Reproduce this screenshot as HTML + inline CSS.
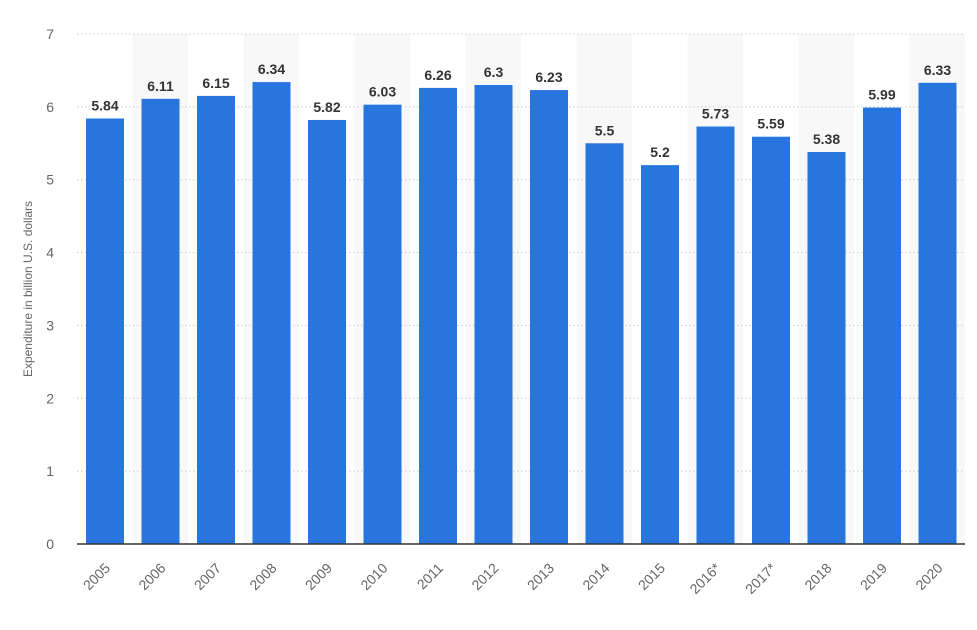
<!DOCTYPE html>
<html><head><meta charset="utf-8"><style>
body{margin:0;background:#fff;width:977px;height:625px;overflow:hidden}
svg{font-family:"Liberation Sans",sans-serif}
</style></head><body>
<svg width="977" height="625" xmlns="http://www.w3.org/2000/svg">
<g id="bands"></g>
<g id="grid"></g>
<g id="bars"></g>
<line x1="77" y1="544" x2="965" y2="544" stroke="#333" stroke-width="1.5"/>
<text transform="translate(32,289) rotate(-90)" text-anchor="middle" font-size="12" fill="#666">Expenditure in billion U.S. dollars</text>
</svg>
<script>
const ns="http://www.w3.org/2000/svg";
const vals=[5.84,6.11,6.15,6.34,5.82,6.03,6.26,6.3,6.23,5.5,5.2,5.73,5.59,5.38,5.99,6.33];
const yrs=["2005","2006","2007","2008","2009","2010","2011","2012","2013","2014","2015","2016*","2017*","2018","2019","2020"];
const y0=544,k=72.86,x0=77,cw=55.5;
function el(t,a,p,txt){const e=document.createElementNS(ns,t);for(const n in a)e.setAttribute(n,a[n]);if(txt!=null)e.textContent=txt;document.getElementById(p).appendChild(e);return e;}
for(let i=0;i<16;i++){if(i%2==1)el('rect',{x:x0+cw*i,y:34,width:cw,height:510,fill:'#f8f8f8'},'bands');}
for(let v=0;v<=7;v++){const y=y0-v*k;if(v>0)el('line',{x1:77,x2:965,y1:y,y2:y,stroke:'#ccc','stroke-dasharray':'1.5,2.5'},'grid');
el('text',{x:54,y:y+5,'text-anchor':'end','font-size':'14',fill:'#666'},'grid',String(v));}
vals.forEach((v,i)=>{const x=x0+cw*i+9,h=v*k;
el('rect',{x:x,y:y0-h,width:38,height:h,fill:'#2876dd'},'bars');
el('text',{x:x+19,y:y0-h-8,'text-anchor':'middle','font-size':'14','font-weight':'bold',fill:'#333'},'bars',String(v));
el('text',{transform:`translate(${x+25},${569}) rotate(-45)`,'text-anchor':'end','font-size':'14',fill:'#666'},'bars',yrs[i]);});
</script>
</body></html>
